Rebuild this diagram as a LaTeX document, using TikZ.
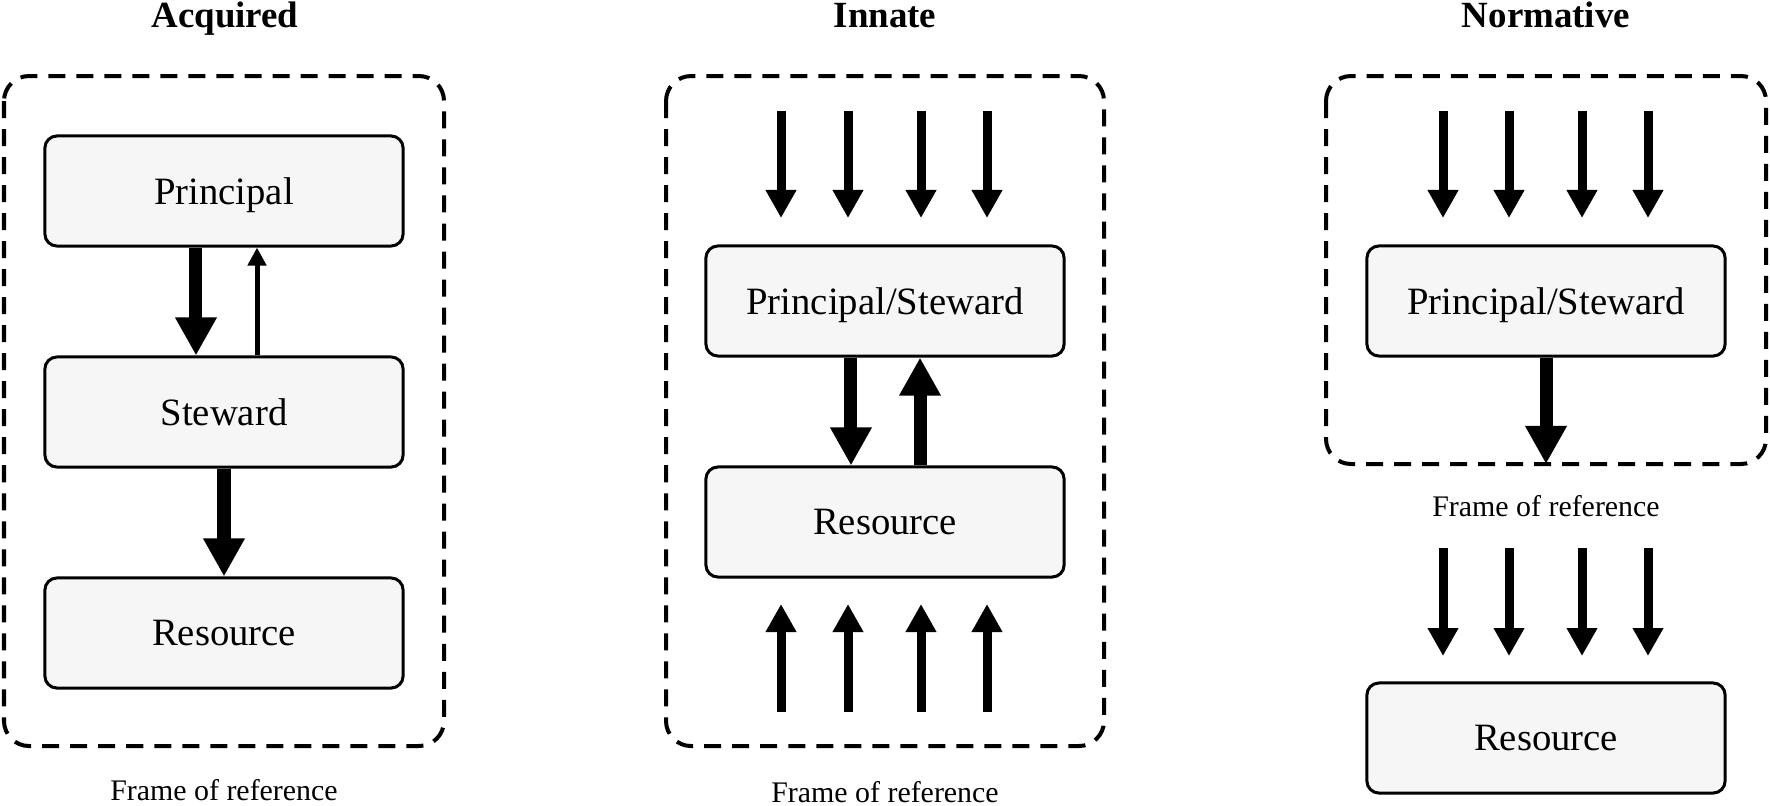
\documentclass[tikz,border=0pt]{standalone}
\usepackage{fontspec}
\setmainfont{Liberation Serif}
\usetikzlibrary{arrows.meta}
\definecolor{boxfill}{RGB}{246,246,246}
\begin{document}
\begin{tikzpicture}[x=0.01cm,y=-0.01cm,
  box/.style={draw=black,line width=0.03cm,rounded corners=0.12cm,fill=boxfill,minimum width=3.58cm,minimum height=1.1cm,inner sep=0pt,text depth=0pt,font=\fontsize{11}{13}\selectfont},
  frame/.style={draw=black,line width=0.04cm,dash pattern=on 0.17cm off 0.11cm,rounded corners=0.25cm},
  title/.style={font=\bfseries\fontsize{10.5}{12}\selectfont,anchor=base},
  caption/.style={font=\fontsize{8.5}{10}\selectfont,anchor=base},
  bigarrow/.style={line width=0.13cm,-{Triangle[width=0.39cm,length=0.38cm]}},
  medarrow/.style={line width=0.09cm,-{Triangle[width=0.29cm,length=0.28cm]}},
  thinarrow/.style={line width=0.05cm,-{Triangle[width=0.18cm,length=0.18cm]}},
]
\useasboundingbox (0,0) rectangle (1770,805);

% titles
\node[title] (t1) at (225,27) {Acquired};
\node[title] (t2) at (885,27) {Innate};
\node[title] (t3) at (1546,27) {Normative};

% ---------- Acquired ----------
\draw[frame] (4,76) rectangle (444,746);
\node[box] (p1) at (224,191) {Principal};
\node[box] (s1) at (224,412) {Steward};
\node[box] (r1) at (224,633) {Resource};
\draw[bigarrow] ([xshift=-0.28cm]p1.south) -- ([xshift=-0.28cm]s1.north);
\draw[thinarrow] ([xshift=0.33cm]s1.north) -- ([xshift=0.33cm]p1.south);
\draw[bigarrow] (s1.south) -- (r1.north);
\node[caption] (c1) at (224,800) {Frame of reference};

% ---------- Innate ----------
\draw[frame] (666,76) rectangle (1104,746);
\node[box] (p2) at (885,301) {Principal/Steward};
\node[box] (r2) at (885,522) {Resource};
\draw[bigarrow] ([xshift=-0.34cm]p2.south) -- ([xshift=-0.34cm]r2.north);
\draw[bigarrow] ([xshift=0.35cm]r2.north) -- ([xshift=0.35cm]p2.south);
\foreach \x [count=\i] in {781,848,921,987}{
  \coordinate (it\i) at (\x,111);
  \coordinate (ie\i) at (\x,218);
  \draw[medarrow] (it\i) -- (ie\i);
  \coordinate (ib\i) at (\x,712);
  \coordinate (iu\i) at (\x,604);
  \draw[medarrow] (ib\i) -- (iu\i);
}
\node[caption] (c2) at (885,802) {Frame of reference};

% ---------- Normative ----------
\draw[frame] (1326,76) rectangle (1766,464);
\node[box] (p3) at (1546,301) {Principal/Steward};
\node[box] (r3) at (1546,738) {Resource};
\coordinate (nd) at (1546,464);
\draw[bigarrow] (p3.south) -- (nd);
\node[caption] (c3) at (1546,516) {Frame of reference};
\foreach \x [count=\i] in {1443,1509,1582,1648}{
  \coordinate (nt\i) at (\x,111);
  \coordinate (ne\i) at (\x,218);
  \draw[medarrow] (nt\i) -- (ne\i);
  \coordinate (nl\i) at (\x,548);
  \coordinate (nm\i) at (\x,656);
  \draw[medarrow] (nl\i) -- (nm\i);
}
\end{tikzpicture}
\end{document}
